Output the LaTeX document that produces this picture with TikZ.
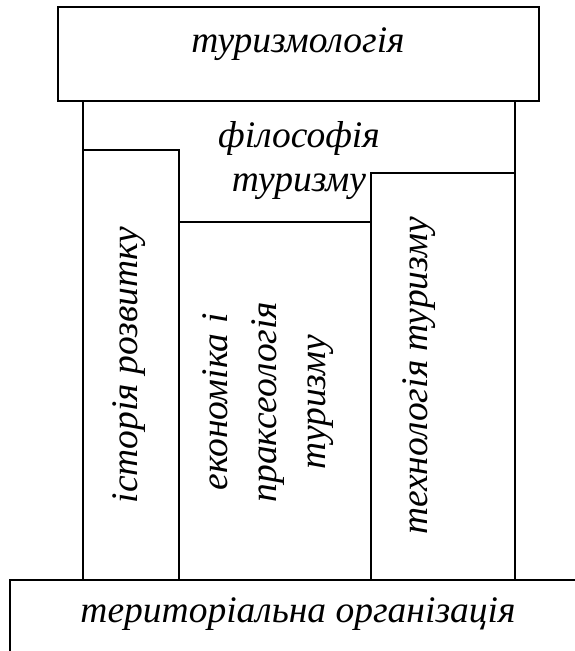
\documentclass[tikz,border=0pt]{standalone}
\usepackage{fontspec}
\setmainfont{Liberation Serif}
\begin{document}
\begin{tikzpicture}[x=1pt,y=-1pt,
  box/.style={draw=black,line width=2pt},
  lbl/.style={font=\fontsize{37.5}{44}\selectfont\itshape,inner sep=0pt,align=center}]
\useasboundingbox (0,0) rectangle (575,651);
\clip (0,0) rectangle (575,651);
% philosophy frame
\draw[box] (83,101) rectangle (515,580);
% columns
\draw[box] (83,150) rectangle (179,580);
\draw[box] (179,222) rectangle (371,580);
\draw[box] (371,173) rectangle (515,580);
% top box
\draw[box,fill=white] (58,7) rectangle (539,101);
% bottom box
\draw[box,fill=white] (10,580) rectangle (600,680);
% texts
\node[lbl] (top) at (298,44) {туризмологія};
\node[lbl] (phil) at (299,161) {філософія\\туризму};
\node[lbl,rotate=90,font=\fontsize{37.5}{49}\selectfont\itshape] (econ) at (268,402) {економіка і\\праксеологія\\туризму};
\node[lbl,rotate=90] (hist) at (129,365) {історія розвитку};
\node[lbl,rotate=90] (tech) at (419,376) {технологія туризму};
\node[lbl] (bot) at (298,614) {територіальна організація};
\end{tikzpicture}
\end{document}
